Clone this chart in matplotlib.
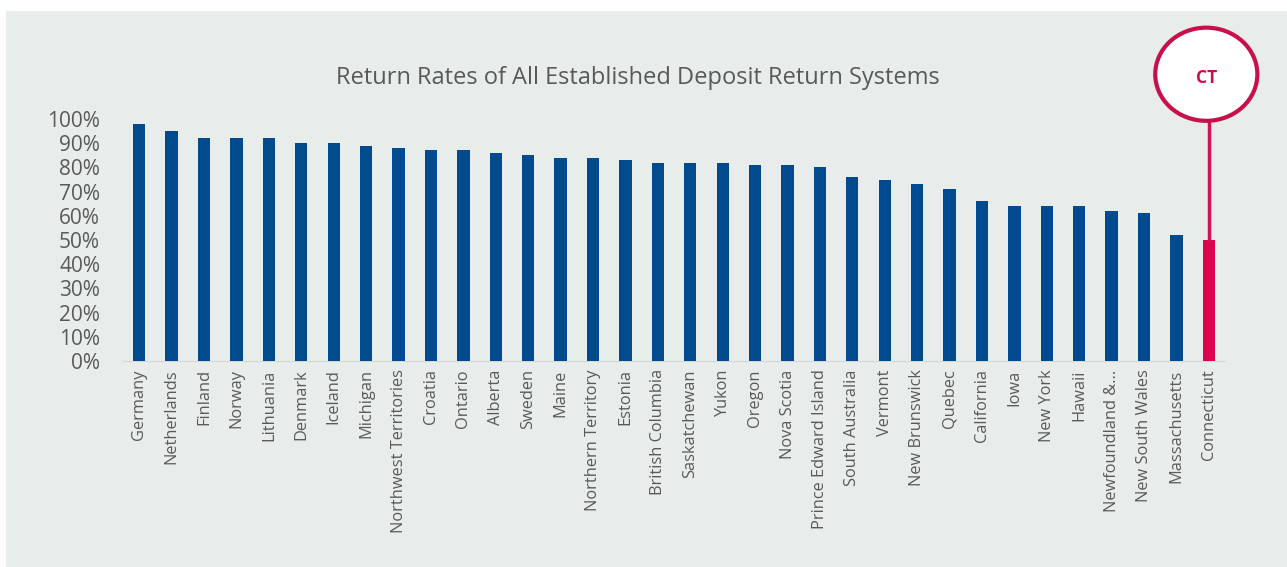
import matplotlib.pyplot as plt
from matplotlib.patches import Ellipse, Rectangle
from matplotlib.ticker import PercentFormatter

# data
places = ["Germany", "Netherlands", "Finland", "Norway", "Lithuania", "Denmark",
          "Iceland", "Michigan", "Northwest Territories", "Croatia", "Ontario",
          "Alberta", "Sweden", "Maine", "Northern Territory", "Estonia",
          "British Columbia", "Saskatchewan", "Yukon", "Oregon", "Nova Scotia",
          "Prince Edward Island", "South Australia", "Vermont", "New Brunswick",
          "Quebec", "California", "Iowa", "New York", "Hawaii", "Newfoundland &...",
          "New South Wales", "Massachusetts", "Connecticut"]
rates = [98, 95, 92, 92, 92, 90, 90, 89, 88, 87, 87, 86, 85, 84, 84, 83, 82,
         82, 82, 81, 81, 80, 76, 75, 73, 71, 66, 64, 64, 64, 62, 61, 52, 50]
highlight = "Connecticut"
callout = "CT"

blue = "#014a8e"
red = "#e0004d"
grey = "#595959"

plt.rcParams['font.family'] = ['Open Sans', 'DejaVu Sans']

fig = plt.figure(figsize=(12.87, 5.67), dpi=100, facecolor="white")
fig.patches.append(Rectangle((6 / 1287, 0), 1, 1 - 11 / 567, transform=fig.transFigure,
                             facecolor="#e8edec", edgecolor="none", zorder=-10))

ax = fig.add_axes([0.0956, 0.3633, 0.8563, 0.4268])
ax.set_facecolor("none")

x = range(len(places))
colors = [red if p == highlight else blue for p in places]
ax.bar(x, rates, width=0.38, color=colors, zorder=3)

ax.set_xlim(-0.5, len(places) - 0.5)
ax.set_ylim(0, 100)
ax.set_yticks(range(0, 101, 10))
ax.yaxis.set_major_formatter(PercentFormatter(decimals=0))
ax.set_xticks(list(x))
ax.set_xticklabels(places, rotation=90, fontsize=11.8, color=grey)
ax.tick_params(axis="y", labelsize=15, colors=grey, length=0, pad=16.5)
ax.tick_params(axis="x", length=0, pad=6)
for s in ["top", "right", "left"]:
    ax.spines[s].set_visible(False)
ax.spines["bottom"].set_color("#d4d9d8")

fig.text(0.496, 0.862, "Return Rates of All Established Deposit Return Systems",
         ha="center", va="center", fontsize=17, color=grey)

# callout circle for the highlighted bar
i = places.index(highlight)
cy = 118.5
ax.plot([i, i], [rates[i], cy - 19], color="#d0144f", lw=2.5, clip_on=False, zorder=4)
ax.add_patch(Ellipse((i - 0.08, cy), 3.15, 38.5, facecolor="white", edgecolor="#c8104a",
                     lw=3, clip_on=False, zorder=5))
ax.text(i - 0.08, cy - 1.5, callout, ha="center", va="center", fontsize=12.5,
        fontweight="bold", color="#c8104a", clip_on=False, zorder=6)

fig.savefig("out.png", dpi=100, facecolor="white")
